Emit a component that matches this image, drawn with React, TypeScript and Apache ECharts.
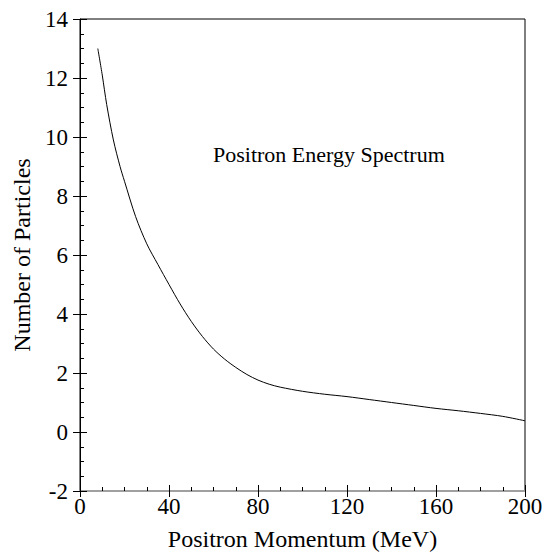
import React, { useEffect, useRef } from "react";
import * as echarts from "echarts";

const momentum = [8, 10, 12, 15, 18, 20, 25, 30, 35, 40, 45, 50, 55, 60, 65, 70, 75, 80, 85, 90, 100, 110, 120, 130, 140, 150, 160, 170, 180, 190, 200];
const particles = [13.0, 12.1, 11.1, 9.9, 9.0, 8.5, 7.3, 6.38, 5.68, 5.0, 4.34, 3.75, 3.24, 2.81, 2.47, 2.19, 1.95, 1.76, 1.62, 1.52, 1.38, 1.28, 1.2, 1.1, 1.0, 0.9, 0.8, 0.72, 0.63, 0.53, 0.38];

const xTitle = "Positron Momentum (MeV)";
const yTitle = "Number of Particles";
const annotation = "Positron Energy Spectrum";

const FONT = "Liberation Serif";

export default function App() {
  const ref = useRef<HTMLDivElement>(null);
  useEffect(() => {
    if (!ref.current) return;
    const chart = echarts.init(ref.current, undefined, { renderer: "svg" });
    const data = momentum.map((m, i) => [m, particles[i]]);
    const xBase = { type: "value", min: 0, max: 200, interval: 40, splitLine: { show: false } };
    const yBase = { type: "value", min: -2, max: 14, interval: 2, splitLine: { show: false } };
    chart.setOption({
      animation: false,
      backgroundColor: "#fff",
      grid: {
        left: 80, right: 23, top: 19, bottom: 65,
        containLabel: false, outerBoundsMode: "none",
        show: true, borderColor: "#000", borderWidth: 1, backgroundColor: "transparent",
      },
      xAxis: [
        {
          ...xBase,
          position: "bottom",
          name: xTitle,
          nameLocation: "middle",
          nameGap: 36,
          nameTextStyle: { fontFamily: FONT, fontSize: 24, color: "#000" },
          axisLine: { show: true, onZero: false, lineStyle: { color: "#a0a0a0", width: 2 } },
          axisTick: { show: true, inside: false, length: 6, lineStyle: { color: "#000" } },
          axisLabel: { fontFamily: FONT, fontSize: 23, color: "#000", margin: 4 },
        },
        {
          ...xBase,
          position: "bottom",
          axisLine: { show: false, onZero: false },
          axisTick: { show: true, inside: true, length: 6, lineStyle: { color: "#000" } },
          minorTick: { show: true, splitNumber: 4, length: 4, lineStyle: { color: "#000" } },
          axisLabel: { show: false },
        },
      ],
      yAxis: [
        {
          ...yBase,
          position: "left",
          name: yTitle,
          nameLocation: "middle",
          nameGap: 44,
          nameTextStyle: { fontFamily: FONT, fontSize: 24, color: "#000" },
          axisLine: { show: true, onZero: false, lineStyle: { color: "#000", width: 1 } },
          axisTick: { show: true, inside: false, length: 7, lineStyle: { color: "#000" } },
          axisLabel: { fontFamily: FONT, fontSize: 23, color: "#000", margin: 12 },
        },
        {
          ...yBase,
          position: "left",
          axisLine: { show: false, onZero: false },
          axisTick: { show: true, inside: true, length: 7, lineStyle: { color: "#000" } },
          minorTick: { show: true, splitNumber: 4, length: 4, lineStyle: { color: "#000" } },
          axisLabel: { show: false },
        },
      ],
      graphic: [
        {
          type: "text",
          left: 213,
          top: 143,
          style: { text: annotation, fontFamily: FONT, fontSize: 22, fill: "#000" },
        },
      ],
      series: [
        {
          type: "line",
          data,
          xAxisIndex: 0,
          yAxisIndex: 0,
          smooth: 0.3,
          showSymbol: false,
          lineStyle: { color: "#000", width: 1 },
        },
      ],
    });
    return () => chart.dispose();
  }, []);
  return <div ref={ref} style={{ position: "absolute", left: 0, top: 0, width: 548, height: 556 }} />;
}
